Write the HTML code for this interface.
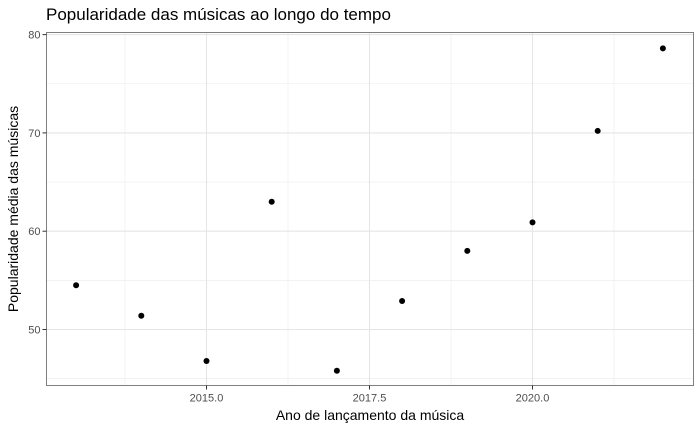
<!DOCTYPE html>
<html><head><meta charset="utf-8"><style>
body{margin:0;background:#fff;font-family:"Liberation Sans",sans-serif}
</style></head><body>
<svg width="700" height="432" xmlns="http://www.w3.org/2000/svg">
<text x="46" y="20" font-size="17" fill="#000">Popularidade das músicas ao longo do tempo</text>
<g id="grid"></g>
<rect x="46.5" y="32.5" width="647" height="353" fill="none" stroke="#7f7f7f" stroke-width="1"/>
<g id="axes"></g>
<g id="pts"></g>
<text x="370" y="420" font-size="14" text-anchor="middle">Ano de lançamento da música</text>
<text transform="translate(18,209) rotate(-90)" font-size="14" text-anchor="middle">Popularidade média das músicas</text>
</svg>
<script>
const years=[2013,2014,2015,2016,2017,2018,2019,2020,2021,2022];
const popularity=[54.5,51.4,46.8,63.0,45.8,52.9,58.0,60.9,70.2,78.6];
const xTicks=[2015.0,2017.5,2020.0];
const xTickLabels=["2015.0","2017.5","2020.0"];
const yTicks=[50,60,70,80];
const yTickLabels=["50","60","70","80"];
const NS="http://www.w3.org/2000/svg";
const L=46.5,R=693.5,T=32.5,B=385.5;
function sx(v){return 206.5+(v-2015)*65.2;}
function sy(v){return 329.5-(v-50)*9.83;}
function mk(t,a,p){const e=document.createElementNS(NS,t);for(const k in a)e.setAttribute(k,a[k]);p.appendChild(e);return e;}
const g=document.getElementById('grid'),ax=document.getElementById('axes'),pg=document.getElementById('pts');
// minor grid
for(let i=0;i<xTicks.length+1;i++){const v=xTicks[0]-1.25+i*2.5;const x=sx(v);if(x>L&&x<R){const l=mk('line',{x1:x,x2:x,y1:T,y2:B,stroke:'#ebebeb','stroke-width':0.6},g);}}
for(let i=0;i<yTicks.length+1;i++){const v=yTicks[0]-5+i*10;const y=sy(v);if(y>T&&y<B){const l=mk('line',{x1:L,x2:R,y1:y,y2:y,stroke:'#ebebeb','stroke-width':0.6},g);}}
xTicks.forEach((v,i)=>{const x=sx(v);
const l=mk('line',{x1:x,x2:x,y1:T,y2:B,stroke:'#e5e5e5','stroke-width':1.1},g);
const t=mk('line',{x1:x,x2:x,y1:B,y2:B+4,stroke:'#333'},ax);
const tx=mk('text',{x:x,y:B+16,'font-size':11,fill:'#4d4d4d','text-anchor':'middle'},ax);tx.textContent=xTickLabels[i];});
yTicks.forEach((v,i)=>{const y=sy(v);
const l=mk('line',{x1:L,x2:R,y1:y,y2:y,stroke:'#e5e5e5','stroke-width':1.1},g);
const t=mk('line',{x1:L-4,x2:L,y1:y,y2:y,stroke:'#333'},ax);
const tx=mk('text',{x:L-6,y:y+4,'font-size':11,fill:'#4d4d4d','text-anchor':'end'},ax);tx.textContent=yTickLabels[i];});
years.forEach((yr,i)=>{const c=mk('circle',{cx:sx(yr),cy:sy(popularity[i]),r:3,fill:'#000'},pg);});
</script>
</body></html>
